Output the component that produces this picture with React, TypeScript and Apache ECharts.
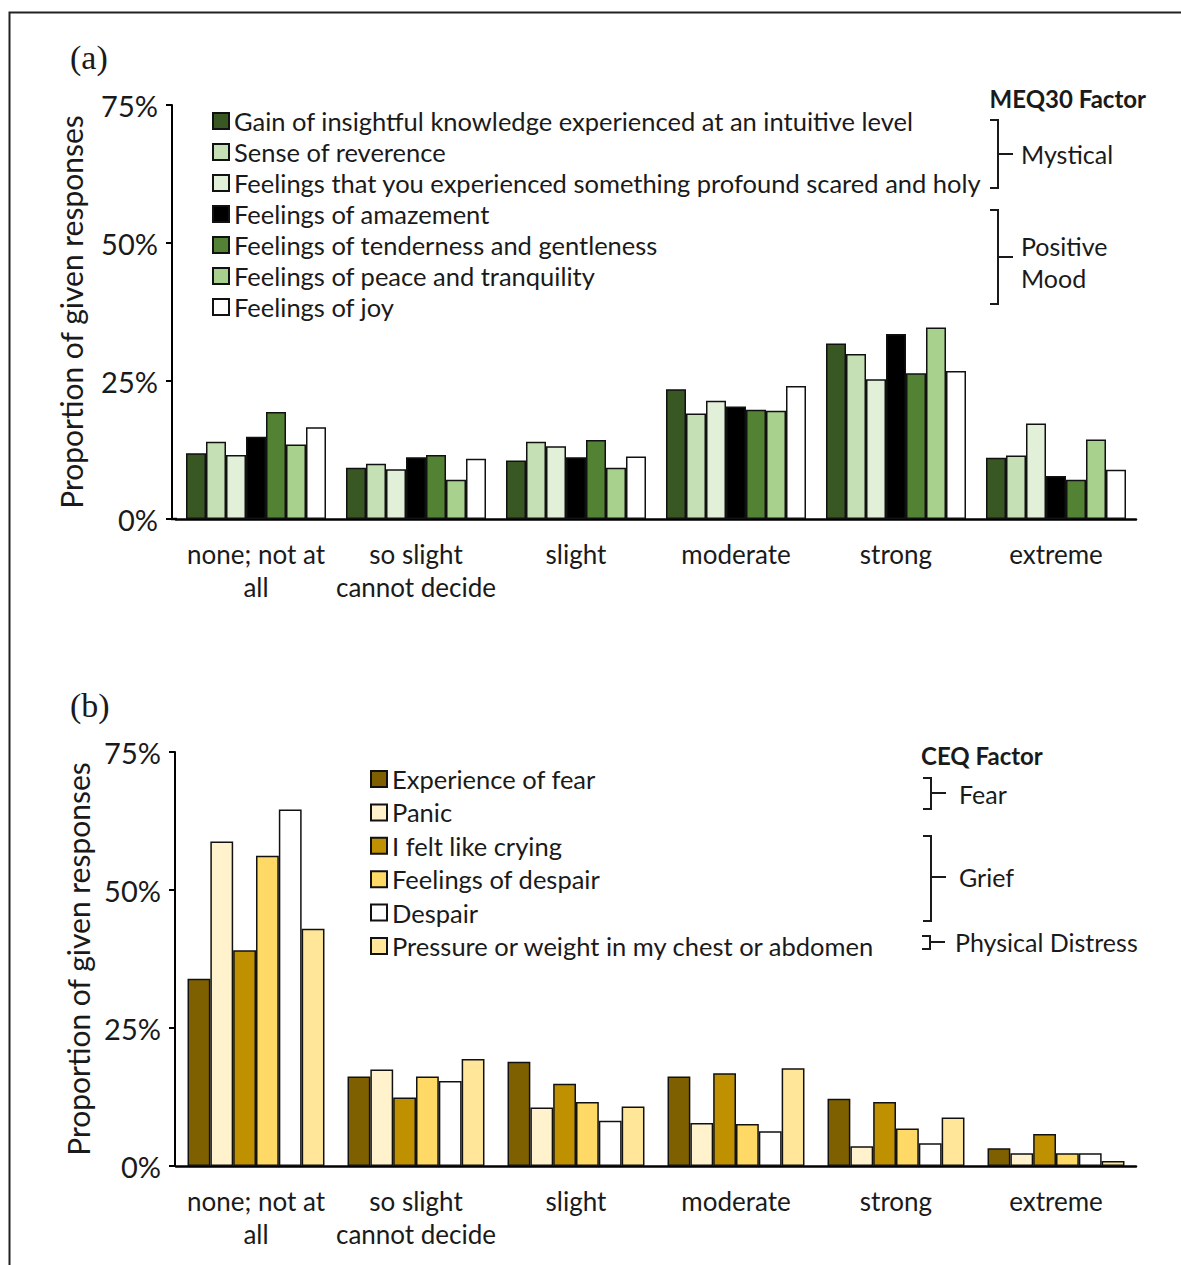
import React, { useEffect, useRef } from 'react';
import * as echarts from 'echarts';

const FONT = 'Lato, "Open Sans", sans-serif';
const TXT = '#1a1a1a';

// Shared categories (intensity ratings)
const categories = ['none; not at\nall', 'so slight\ncannot decide', 'slight', 'moderate', 'strong', 'extreme'];
const yTicks = [0, 25, 50, 75];

// Panel (a) – MEQ30 items (percent of responses)
const meqNames = [
  'Gain of insightful knowledge experienced at an intuitive level',
  'Sense of reverence',
  'Feelings that you experienced something profound scared and holy',
  'Feelings of amazement',
  'Feelings of tenderness and gentleness',
  'Feelings of peace and tranquility',
  'Feelings of joy',
];
const meqColors = ['#385723', '#C5E0B4', '#E2F0D9', '#000000', '#548235', '#A9D18E', '#FFFFFF'];
const meqGain = [11.9, 9.3, 10.6, 23.5, 31.8, 11.1];
const meqReverence = [14.0, 10.0, 14.0, 19.1, 29.9, 11.5];
const meqProfound = [11.6, 9.0, 13.2, 21.4, 25.3, 17.3];
const meqAmazement = [14.9, 11.2, 11.2, 20.4, 33.5, 7.8];
const meqTenderness = [19.4, 11.6, 14.3, 19.8, 26.4, 7.1];
const meqPeace = [13.5, 7.1, 9.3, 19.6, 34.7, 14.4];
const meqJoy = [16.6, 10.9, 11.3, 24.1, 26.8, 8.9];
const meqValues = [meqGain, meqReverence, meqProfound, meqAmazement, meqTenderness, meqPeace, meqJoy];

// Panel (b) – CEQ items (percent of responses)
const ceqNames = [
  'Experience of fear',
  'Panic',
  'I felt like crying',
  'Feelings of despair',
  'Despair',
  'Pressure or weight in my chest or abdomen',
];
const ceqColors = ['#7F6000', '#FFF2CC', '#BF9000', '#FFD966', '#FFFFFF', '#FFE699'];
const ceqFear = [33.9, 16.2, 18.9, 16.2, 12.2, 3.2];
const ceqPanic = [58.8, 17.5, 10.6, 7.8, 3.6, 2.3];
const ceqCrying = [39.1, 12.4, 14.9, 16.8, 11.6, 5.8];
const ceqDespairFeelings = [56.2, 16.2, 11.6, 7.6, 6.8, 2.3];
const ceqDespair = [64.6, 15.4, 8.2, 6.3, 4.1, 2.3];
const ceqPressure = [43.0, 19.4, 10.8, 17.7, 8.8, 0.9];
const ceqValues = [ceqFear, ceqPanic, ceqCrying, ceqDespairFeelings, ceqDespair, ceqPressure];

function bracket(x: number, top: number, bottom: number, mid: number, tick: number) {
  const st = { stroke: '#1a1a1a', lineWidth: 2, fill: 'none' };
  return [
    { type: 'polyline', shape: { points: [[x - 8, top], [x, top], [x, bottom], [x - 8, bottom]] }, style: st },
    { type: 'line', shape: { x1: x, y1: mid, x2: x + tick, y2: mid }, style: st },
  ];
}

function txt(x: number, y: number, text: string, size: number, extra: any = {}) {
  return {
    type: 'text',
    x,
    y,
    style: { text, fontSize: size, fontFamily: FONT, fill: TXT, textVerticalAlign: 'middle', textAlign: 'left', ...extra },
  };
}

export default function App() {
  const ref = useRef<HTMLDivElement>(null);
  useEffect(() => {
    if (!ref.current) return;
    const chart = echarts.init(ref.current, undefined, { renderer: 'svg' });

    const xAxisBase = (gi: number) => ({
      gridIndex: gi,
      type: 'category',
      data: categories,
      axisLine: { show: true, lineStyle: { color: '#000', width: 2.5 } },
      axisTick: { show: false },
      axisLabel: { fontSize: 26, lineHeight: 33, color: TXT, margin: 18, fontFamily: FONT, interval: 0 },
    });
    const yAxisBase = (gi: number, offset: number, nameGap: number) => ({
      gridIndex: gi,
      type: 'value',
      min: yTicks[0],
      max: yTicks[yTicks.length - 1],
      interval: 25,
      offset,
      axisLine: { show: true, lineStyle: { color: '#000', width: 2 } },
      axisTick: { show: true, length: 6, lineStyle: { color: '#000', width: 2 } },
      splitLine: { show: false },
      axisLabel: { formatter: '{value}%', fontSize: 29, color: TXT, margin: 14, fontFamily: FONT },
      name: 'Proportion of given responses',
      nameLocation: 'middle',
      nameGap,
      nameTextStyle: { fontSize: 30, color: TXT, fontFamily: FONT },
    });

    const series: any[] = [];
    meqValues.forEach((vals, i) => {
      series.push({
        type: 'bar',
        name: meqNames[i],
        xAxisIndex: 0,
        yAxisIndex: 0,
        data: vals,
        barGap: '0%',
        barCategoryGap: '12.5%',
        itemStyle: { color: meqColors[i], borderColor: '#111', borderWidth: 1.5 },
      });
    });
    ceqValues.forEach((vals, i) => {
      series.push({
        type: 'bar',
        name: ceqNames[i],
        xAxisIndex: 1,
        yAxisIndex: 1,
        data: vals,
        barGap: '0%',
        barCategoryGap: '14.4%',
        itemStyle: { color: ceqColors[i], borderColor: '#111', borderWidth: 1.5 },
      });
    });

    const graphic: any[] = [
      { type: 'polyline', shape: { points: [[9.5, 1265], [9.5, 12.5], [1181, 12.5]] }, style: { stroke: '#222', lineWidth: 2, fill: 'none' } },
      { type: 'line', shape: { x1: 171, y1: 519, x2: 177, y2: 519 }, style: { stroke: '#000', lineWidth: 2.5 } },
      txt(70, 57, '(a)', 34, { fontFamily: '"Liberation Serif", serif' }),
      txt(70, 705, '(b)', 34, { fontFamily: '"Liberation Serif", serif' }),
      txt(1146, 98, 'MEQ30 Factor', 24, { fontWeight: 'bold', textAlign: 'right' }),
      ...bracket(998, 120, 188, 154, 15),
      txt(1021, 154, 'Mystical', 25),
      ...bracket(998, 210, 304, 257, 15),
      txt(1021, 246, 'Positive', 25),
      txt(1021, 278, 'Mood', 25),
      txt(921, 755, 'CEQ Factor', 24, { fontWeight: 'bold' }),
      ...bracket(931, 778, 809, 793, 15),
      txt(959, 794, 'Fear', 25),
      ...bracket(931, 836, 921, 877, 15),
      txt(959, 877, 'Grief', 25),
      ...bracket(930, 936, 949, 942, 15),
      txt(955, 942, 'Physical Distress', 25),
    ];

    chart.setOption({
      animation: false,
      backgroundColor: '#fff',
      textStyle: { fontFamily: FONT, color: TXT },
      grid: [
        { left: 176, top: 105, width: 960, height: 414 },
        { left: 176, top: 752, width: 960, height: 414 },
      ],
      xAxis: [xAxisBase(0), xAxisBase(1)],
      yAxis: [yAxisBase(0, 4, 86), yAxisBase(1, 1, 80)],
      legend: [
        {
          data: meqNames,
          orient: 'vertical',
          left: 212,
          top: 107,
          padding: 0,
          icon: 'rect',
          itemWidth: 16,
          itemHeight: 16,
          itemGap: 3,
          selectedMode: false,
          textStyle: { fontSize: 25.5, lineHeight: 28, color: TXT, fontFamily: FONT },
        },
        {
          data: ceqNames,
          orient: 'vertical',
          left: 370,
          top: 765,
          padding: 0,
          icon: 'rect',
          itemWidth: 16,
          itemHeight: 16,
          itemGap: 5.4,
          selectedMode: false,
          textStyle: { fontSize: 25.5, lineHeight: 28, color: TXT, fontFamily: FONT },
        },
      ],
      series,
      graphic,
    });
    return () => chart.dispose();
  }, []);
  return <div ref={ref} style={{ position: 'absolute', left: 0, top: 0, width: 1181, height: 1265 }} />;
}
